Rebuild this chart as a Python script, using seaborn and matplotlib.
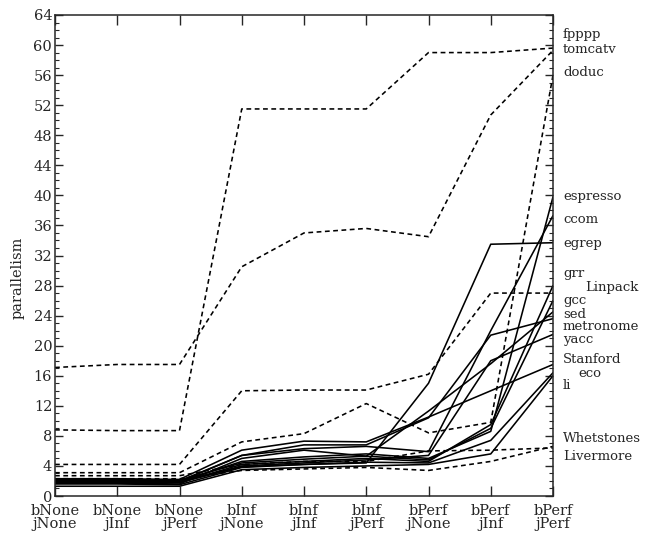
import numpy as np
import pandas as pd
import matplotlib
matplotlib.use("Agg")
import matplotlib.pyplot as plt
import seaborn as sns
from matplotlib.ticker import MultipleLocator

categories = ["bNone\njNone", "bNone\njInf", "bNone\njPerf",
              "bInf\njNone", "bInf\njInf", "bInf\njPerf",
              "bPerf\njNone", "bPerf\njInf", "bPerf\njPerf"]

# numeric (dashed) programs
fpppp      = [8.8, 8.7, 8.7, 51.5, 51.5, 51.5, 59.0, 59.0, 59.6]
tomcatv    = [17.1, 17.5, 17.5, 30.5, 35.0, 35.6, 34.5, 50.7, 59.3]
doduc      = [3.1, 3.1, 3.1, 7.2, 8.3, 12.3, 8.4, 9.8, 56.0]
Linpack    = [4.2, 4.2, 4.2, 14.0, 14.1, 14.1, 16.2, 27.0, 27.0]
Whetstones = [2.7, 2.7, 2.7, 4.2, 4.6, 4.6, 6.0, 6.1, 6.4]
Livermore  = [2.3, 2.3, 2.3, 3.4, 3.6, 3.8, 3.4, 4.6, 6.6]

# non-numeric (solid) programs
espresso  = [2.0, 2.0, 1.9, 4.6, 5.2, 5.6, 5.0, 8.6, 39.8]
ccom      = [2.1, 2.1, 2.0, 5.4, 6.3, 6.6, 5.9, 22.0, 37.3]
egrep     = [1.9, 1.9, 1.8, 3.9, 4.2, 4.4, 15.0, 33.5, 33.7]
grr       = [1.8, 1.8, 1.8, 4.2, 4.6, 5.0, 4.6, 9.5, 28.0]
gcc       = [2.2, 2.2, 2.1, 4.4, 4.9, 5.3, 4.8, 9.0, 26.0]
sed       = [1.7, 1.7, 1.6, 5.0, 6.1, 5.3, 11.3, 17.6, 24.5]
metronome = [2.0, 2.0, 1.9, 5.4, 6.8, 6.8, 10.4, 21.4, 23.6]
yacc      = [1.9, 1.9, 1.8, 4.0, 4.4, 4.8, 5.4, 18.0, 21.5]
Stanford  = [2.3, 2.3, 2.2, 6.1, 7.3, 7.2, 10.5, 14.0, 17.5]
eco       = [1.6, 1.6, 1.5, 3.8, 4.2, 4.5, 4.4, 7.4, 16.4]
li        = [1.3, 1.3, 1.3, 3.5, 3.8, 4.0, 4.2, 5.6, 16.0]

numeric = {"fpppp": fpppp, "tomcatv": tomcatv, "doduc": doduc,
           "Linpack": Linpack, "Whetstones": Whetstones, "Livermore": Livermore}
nonnumeric = {"espresso": espresso, "ccom": ccom, "egrep": egrep, "grr": grr,
              "gcc": gcc, "sed": sed, "metronome": metronome, "yacc": yacc,
              "Stanford": Stanford, "eco": eco, "li": li}

label_names = ["fpppp", "tomcatv", "doduc", "espresso", "ccom", "egrep", "grr",
               "Linpack", "gcc", "sed", "metronome", "yacc", "Stanford", "eco",
               "li", "Whetstones", "Livermore"]

# layout of right-hand labels (data-unit y, x offset)
label_y = [61.4, 59.4, 56.4, 39.9, 36.8, 33.6, 29.6, 27.8, 26.0, 24.2, 22.5,
           20.8, 18.2, 16.3, 14.7, 7.6, 5.2]
label_dx = [0.16, 0.16, 0.16, 0.16, 0.16, 0.16, 0.16, 0.51, 0.16, 0.16, 0.16,
            0.16, 0.16, 0.40, 0.16, 0.16, 0.16]

rows = []
for kind, group in (("num", numeric), ("non", nonnumeric)):
    for name, vals in group.items():
        for i, v in enumerate(vals):
            rows.append({"program": name, "kind": kind, "pos": i, "value": v})
df = pd.DataFrame(rows)

sns.set_theme(style="ticks")
plt.rcParams["font.family"] = ["DejaVu Serif"]
plt.rcParams["axes.linewidth"] = 1.1

fig = plt.figure(figsize=(6.49, 5.42), dpi=100)
ax = fig.add_axes([55/649, 46/542, (553-55)/649, (496-15)/542])

sns.lineplot(data=df, x="pos", y="value", units="program", estimator=None,
             style="kind", dashes={"num": (3, 2.2), "non": ""},
             color="black", linewidth=1.15, legend=False, ax=ax, sort=False)

ax.set_xlim(0, 8)
ax.set_ylim(0, 64)
ax.set_xticks(range(len(categories)))
ax.set_xticklabels(categories, fontsize=10.5, linespacing=0.9)
ax.yaxis.set_major_locator(MultipleLocator(4))
ax.yaxis.set_minor_locator(MultipleLocator(1))
ax.tick_params(axis="y", which="major", direction="in", left=True, right=True,
               length=6, width=1, labelsize=10.5, pad=2)
ax.tick_params(axis="y", which="minor", direction="in", left=True, right=True,
               length=3, width=0.8)
ax.tick_params(axis="x", which="major", direction="in", top=True, bottom=True,
               length=7, width=1, pad=6)
ax.set_xlabel("")
ax.set_ylabel("")

fig.text(18/649, 1 - 278/542, "parallelism", rotation=90, ha="center",
         va="center", fontsize=10.5)

for name, y, dx in zip(label_names, label_y, label_dx):
    ax.text(8 + dx, y, name, fontsize=9.5, va="center", ha="left",
            clip_on=False)

fig.savefig("out.png", dpi=100)
